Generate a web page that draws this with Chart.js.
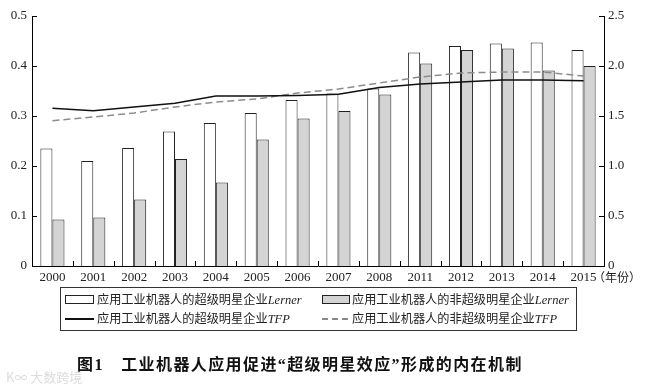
<!DOCTYPE html>
<html>
<head>
<meta charset="utf-8">
<script src="https://cdn.jsdelivr.net/npm/chart.js@4.4.1/dist/chart.umd.min.js"></script>
<style>
  html,body{margin:0;padding:0;background:#fff;}
  #wrap{position:relative;width:658px;height:387px;overflow:hidden;}
  canvas{position:absolute;left:0;top:0;}
  .lg{position:absolute;left:60px;top:287px;width:517px;height:44px;border:1px solid #333;box-sizing:border-box;}
  .item{position:absolute;font-family:"Liberation Serif","Noto Sans CJK SC",serif;font-size:12.2px;color:#222;white-space:nowrap;line-height:14px;}
  .item i{font-family:"Liberation Serif",serif;font-style:italic;font-size:12.5px;}
  .ico{position:absolute;}
  .title{position:absolute;left:77px;top:351px;font-family:"Liberation Serif","Noto Sans CJK SC",serif;font-weight:bold;font-size:16px;color:#111;white-space:nowrap;letter-spacing:1.4px;}
  .unit{position:absolute;left:593px;top:268px;font-family:"Noto Sans CJK SC",sans-serif;font-size:12px;color:#222;white-space:nowrap;}
  .wm{position:absolute;left:6px;top:367px;font-family:"Noto Sans CJK SC",sans-serif;font-size:13px;color:#dcdcdc;white-space:nowrap;}
</style>
</head>
<body>
<div id="wrap">
  <canvas id="c" width="658" height="387"></canvas>
  <div class="lg"></div>
  <div class="ico" style="left:65px;top:295px;width:29px;height:9px;border:1px solid #222;background:#fff;box-sizing:border-box;"></div>
  <div class="item" style="left:97px;top:293px;">应用工业机器人的超级明星企业<i>Lerner</i></div>
  <div class="ico" style="left:322px;top:295px;width:28px;height:9px;border:1px solid #222;background:#d4d4d4;box-sizing:border-box;"></div>
  <div class="item" style="left:352px;top:293px;">应用工业机器人的非超级明星企业<i>Lerner</i></div>
  <div class="ico" style="left:65px;top:318px;width:29px;height:1.5px;background:#111;"></div>
  <div class="item" style="left:97px;top:312px;">应用工业机器人的超级明星企业<i>TFP</i></div>
  <div class="ico" style="left:322px;top:318px;width:28px;height:1.5px;background:repeating-linear-gradient(90deg,#888 0 6px,transparent 6px 10px);"></div>
  <div class="item" style="left:352px;top:312px;">应用工业机器人的非超级明星企业<i>TFP</i></div>
  <div class="unit">（年份）</div>
  <div class="title">图1　工业机器人应用促进“超级明星效应”形成的内在机制</div>
  <div class="wm">K∞ 大数跨境</div>
</div>
<script>
const years = ['2000','2001','2002','2003','2004','2005','2006','2007','2008','2011','2012','2013','2014','2015'];
const lernerStar    = [0.235,0.210,0.236,0.269,0.286,0.306,0.332,0.345,0.355,0.427,0.440,0.445,0.447,0.432];
const lernerNonStar = [0.093,0.097,0.133,0.214,0.167,0.253,0.295,0.310,0.343,0.405,0.432,0.435,0.391,0.400];
const tfpStar       = [1.577,1.553,1.590,1.627,1.700,1.700,1.705,1.717,1.785,1.820,1.840,1.860,1.860,1.853];
const tfpNonStar    = [1.453,1.490,1.530,1.590,1.640,1.670,1.730,1.770,1.830,1.890,1.930,1.940,1.940,1.900];
const leftTickLabels  = ['0','0.1','0.2','0.3','0.4','0.5'];
const rightTickLabels = ['0','0.5','1.0','1.5','2.0','2.5'];

const serif = '"Liberation Serif", serif';

const inTicks = {
  id: 'inTicks',
  afterDraw(chart) {
    const ctx = chart.ctx, x = chart.scales.x, y = chart.scales.y, y1 = chart.scales.y1;
    ctx.save();
    ctx.strokeStyle = '#000';
    ctx.lineWidth = 1;
    ctx.beginPath();
    y.ticks.forEach(t => {
      const py = Math.round(y.getPixelForValue(t.value)) + 0.5;
      ctx.moveTo(x.left, py); ctx.lineTo(x.left + 5, py);
    });
    y1.ticks.forEach(t => {
      const py = Math.round(y1.getPixelForValue(t.value)) + 0.5;
      ctx.moveTo(x.right, py); ctx.lineTo(x.right - 5, py);
    });
    for (let i = 1; i < years.length; i++) {
      const px = Math.round((x.getPixelForValue(i - 1) + x.getPixelForValue(i)) / 2) + 0.5;
      ctx.moveTo(px, y.bottom); ctx.lineTo(px, y.bottom - 5);
    }
    ctx.stroke();
    ctx.restore();
  }
};

new Chart(document.getElementById('c'), {
  type: 'bar',
  data: {
    labels: years,
    datasets: [
      { type: 'bar', data: lernerStar, yAxisID: 'y', backgroundColor: '#ffffff', borderColor: '#222', borderWidth: 1, categoryPercentage: 0.59, barPercentage: 1, order: 2 },
      { type: 'bar', data: lernerNonStar, yAxisID: 'y', backgroundColor: '#d4d4d4', borderColor: '#222', borderWidth: 1, categoryPercentage: 0.59, barPercentage: 1, order: 2 },
      { type: 'line', data: tfpStar, yAxisID: 'y1', borderColor: '#111', borderWidth: 1.5, pointRadius: 0, tension: 0, fill: false, order: 1 },
      { type: 'line', data: tfpNonStar, yAxisID: 'y1', borderColor: '#8c8c8c', borderWidth: 1.5, borderDash: [7, 4], pointRadius: 0, tension: 0, fill: false, order: 1 }
    ]
  },
  options: {
    responsive: false,
    animation: false,
    devicePixelRatio: 1,
    layout: { padding: { top: 16, left: 0, right: 0, bottom: 0 } },
    plugins: { legend: { display: false }, tooltip: { enabled: false } },
    scales: {
      x: {
        offset: true,
        grid: { display: false, drawTicks: false },
        border: { display: true, color: '#000', width: 1 },
        ticks: { color: '#222', font: { family: serif, size: 13 }, padding: 4, maxRotation: 0, autoSkip: false },
        afterFit(s) { s.height = 121; }
      },
      y: {
        position: 'left', min: 0, max: 0.5,
        grid: { display: false, drawTicks: false },
        border: { display: true, color: '#000', width: 1 },
        ticks: { stepSize: 0.1, color: '#222', font: { family: serif, size: 13 }, padding: 5,
          callback: (v, i) => leftTickLabels[i] },
        afterFit(s) { s.width = 32; }
      },
      y1: {
        position: 'right', min: 0, max: 2.5,
        grid: { display: false, drawTicks: false },
        border: { display: true, color: '#000', width: 1 },
        ticks: { stepSize: 0.5, color: '#222', font: { family: serif, size: 13 }, padding: 4,
          callback: (v, i) => rightTickLabels[i] },
        afterFit(s) { s.width = 54; }
      }
    }
  },
  plugins: [inTicks]
});
</script>
</body>
</html>
